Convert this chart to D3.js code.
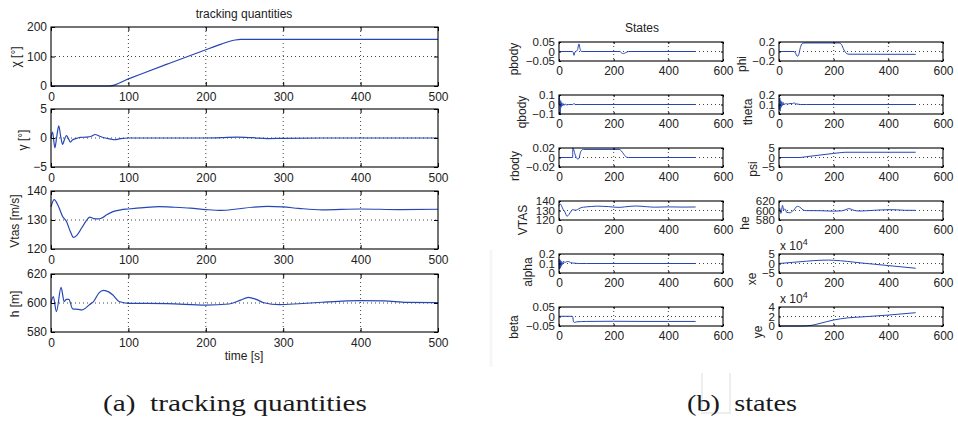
<!DOCTYPE html>
<html><head><meta charset="utf-8">
<script src="https://cdn.jsdelivr.net/npm/d3@7"></script>
<style>body{margin:0;background:#fff}svg{display:block}text{fill:#222}</style>
</head><body><svg id="c" width="958" height="422"></svg>
<script>
// ---------------- data ----------------
const leftXTicks = [0, 100, 200, 300, 400, 500];
const rightXTicks = [0, 200, 400, 600];

// tracking quantities
const chiT = [0, 76, 100, 150, 200, 220, 230, 238, 245, 500];
const chiV = [0, 0, 24, 74, 123, 142, 151, 156, 158, 158];
const chiTicks = [0, 100, 200];

const gammaT = [0, 2, 5, 7.5, 10, 12.5, 15, 17.5, 20, 22.5, 25, 28, 32, 38, 45, 52, 57, 63, 70, 76, 82, 90, 100, 150, 200, 220, 240, 260, 280, 300, 350, 500];
const gammaV = [0, 1.0, -1.7, 0.3, 2.1, 0.3, -1.1, -0.2, 0.4, -0.1, -0.7, -0.3, -0.1, 0.1, 0.15, 0.3, 0.6, 0.3, 0, -0.15, -0.3, -0.1, 0, 0, 0, 0.05, 0.15, 0.05, -0.1, -0.05, 0, 0];
const gammaTicks = [-5, 0, 5];

const vtasT = [0, 4, 10, 15, 20, 25, 29, 33, 40, 45, 50, 55, 60, 65, 72, 80, 90, 100, 120, 140, 160, 180, 200, 220, 240, 260, 280, 300, 320, 350, 400, 450, 500];
const vtasV = [134.5, 137, 134.5, 131.2, 129.5, 126, 124, 124.6, 127.4, 129.5, 131, 130.5, 130.4, 130.6, 131.8, 132.9, 133.5, 133.8, 134.3, 134.6, 134.4, 134.1, 133.6, 133.3, 133.8, 134.4, 134.7, 134.5, 134, 133.5, 133.8, 133.6, 133.7];
const vtasTicks = [120, 130, 140];

const hT = [0, 3, 7, 13, 17, 20, 23, 28, 35, 40, 50, 55, 62, 68, 75, 80, 88, 100, 150, 200, 230, 245, 255, 265, 275, 295, 320, 350, 400, 430, 460, 500];
const hV = [600, 604.4, 594, 610.8, 601, 602.5, 602.5, 595.9, 595.6, 595.2, 599, 601, 607, 608.7, 607.5, 605.5, 601, 599.8, 599.6, 598.6, 599.3, 602, 603.9, 602.5, 600.2, 598.9, 599.5, 600.5, 601.6, 601.5, 600.4, 600.3];
const hTicks = [580, 600, 620];

// states
const pbodyT = [0, 50, 52, 55, 58, 62, 68, 73, 77, 82, 222, 230, 236, 244, 255, 500];
const pbodyV = [0, 0, -0.005, -0.02, -0.004, 0, 0.01, 0.04, 0.015, 0, 0, -0.008, -0.011, -0.006, 0, 0];
const pbodyTicks = [-0.05, 0, 0.05];

const phiT = [0, 55, 60, 67, 72, 78, 85, 95, 220, 228, 238, 248, 256, 500];
const phiV = [0, 0, -0.03, -0.1, -0.07, 0.08, 0.165, 0.18, 0.18, 0.15, 0.03, -0.045, -0.057, -0.06];
const phiTicks = [-0.2, 0, 0.2];

const qbodyT = [0, 1.5, 3, 4.5, 6, 8, 10, 12, 15, 18, 22, 28, 35, 50, 55, 60, 80, 500];
const qbodyV = [0, 0.08, -0.02, -0.1, 0.04, -0.03, 0.02, -0.015, 0.01, -0.01, 0.006, -0.004, 0, 0, 0.01, 0, 0, 0];
const qbodyTicks = [-0.1, 0, 0.1];

const thetaT = [0, 1.5, 3, 4.5, 6, 8, 10, 13, 16, 20, 25, 30, 40, 50, 55, 60, 70, 80, 100, 500];
const thetaV = [0.1, 0.05, 0.17, 0.03, 0.14, 0.07, 0.13, 0.09, 0.12, 0.1, 0.11, 0.105, 0.11, 0.11, 0.118, 0.11, 0.103, 0.1, 0.1, 0.1];
const thetaTicks = [0, 0.1, 0.2];

const rbodyT = [0, 50, 50.5, 53, 58, 63, 68, 73, 78, 84, 90, 220, 228, 238, 246, 255, 500];
const rbodyV = [0, 0, 0.02, 0.018, 0.008, 0, -0.003, -0.002, 0.01, 0.016, 0.017, 0.017, 0.014, 0.006, 0.001, 0, 0];
const rbodyTicks = [-0.02, 0, 0.02];

const psiT = [0, 76, 100, 150, 200, 220, 230, 238, 245, 500];
const psiV = [0, 0, 0.42, 1.29, 2.15, 2.48, 2.63, 2.72, 2.76, 2.76];
const psiTicks = [-5, 0, 5];

const alphaT = [0, 1.5, 3, 4.5, 6, 8, 10, 13, 17, 21, 25, 30, 35, 42, 50, 60, 70, 80, 100, 500];
const alphaV = [0.15, 0.04, 0.14, 0.05, 0.13, 0.07, 0.12, 0.09, 0.125, 0.11, 0.115, 0.12, 0.12, 0.11, 0.105, 0.103, 0.1, 0.1, 0.1, 0.1];
const alphaTicks = [0, 0.1, 0.2];

const xeT = [0, 50, 100, 150, 180, 200, 250, 300, 350, 400, 450, 500];
const xeV = [0, 0.6, 1.2, 1.7, 1.8, 1.7, 1.1, 0.3, -0.4, -1.1, -1.8, -2.5]; // x 10^4
const xeTicks = [-5, 0, 5];

const betaT = [0, 48, 50, 53, 57, 65, 100, 200, 300, 400, 500];
const betaV = [0.001, 0.001, 0, -0.028, -0.031, -0.028, -0.026, -0.025, -0.026, -0.026, -0.026];
const betaTicks = [-0.05, 0, 0.05];

const yeT = [0, 80, 100, 120, 150, 200, 250, 300, 400, 500];
const yeV = [0, 0, 0.03, 0.15, 0.55, 1.26, 1.7, 1.9, 2.3, 2.8]; // x 10^4
const yeTicks = [0, 2, 4];

// ---------------- layout ----------------
const svg = d3.select("#c");
const LINE = "#2646b6";
const SANS = "'Liberation Sans', Arial, Helvetica, sans-serif";
const SERIF = "'Liberation Serif', 'Times New Roman', serif";
const fmt = v => (v < 0 ? "\u2212" : "") + Math.abs(v);

function panel(o) {
  const x = d3.scaleLinear().domain(o.xd).range([o.x0, o.x1]);
  const y = d3.scaleLinear().domain([o.yt[0], o.yt[o.yt.length - 1]]).range([o.y1, o.y0]);
  const g = svg.append("g");
  const gx = o.xt.slice(1, -1);
  g.selectAll(".gv").data(gx).enter().append("line")
    .attr("x1", d => x(d)).attr("x2", d => x(d)).attr("y1", o.y0).attr("y2", o.y1)
    .attr("stroke", "#444").attr("stroke-width", 1).attr("stroke-dasharray", "1,3");
  const gy = o.yt.slice(1, -1);
  g.selectAll(".gh").data(gy).enter().append("line")
    .attr("x1", o.x0).attr("x2", o.x1).attr("y1", d => y(d)).attr("y2", d => y(d))
    .attr("stroke", "#444").attr("stroke-width", 1).attr("stroke-dasharray", "1,3");
  const pts = o.t.map((t, i) => [t, o.v[i]]);
  g.append("path").datum(pts)
    .attr("d", d3.line().x(d => x(d[0])).y(d => y(d[1])).curve(d3.curveMonotoneX))
    .attr("fill", "none").attr("stroke", LINE).attr("stroke-width", o.lw);
  const tl = o.tl;
  const ax = g.append("g").attr("transform", `translate(0,${o.y1})`)
    .call(d3.axisBottom(x).tickValues(o.xt).tickSize(-tl).tickPadding(o.xpad).tickFormat(fmt));
  const ay = g.append("g").attr("transform", `translate(${o.x0},0)`)
    .call(d3.axisLeft(y).tickValues(o.yt).tickSize(-tl).tickPadding(4).tickFormat(fmt));
  g.append("g").attr("transform", `translate(0,${o.y0})`)
    .call(d3.axisTop(x).tickValues(o.xt).tickSize(-tl).tickFormat(""));
  g.append("g").attr("transform", `translate(${o.x1},0)`)
    .call(d3.axisRight(y).tickValues(o.yt).tickSize(-tl).tickFormat(""));
  g.selectAll(".domain").remove();
  g.selectAll(".tick line").attr("stroke", "#000");
  g.selectAll(".tick text").style("font-size", "12px").style("fill", "#222").style("font-family", SANS);
  ay.selectAll(".tick text").style("font-size", o.yfs + "px");
  g.append("rect").attr("x", o.x0).attr("y", o.y0).attr("width", o.x1 - o.x0).attr("height", o.y1 - o.y0)
    .attr("fill", "none").attr("stroke", "#000").attr("stroke-width", 1.1);
  g.append("text").attr("transform", `translate(${o.lx},${o.ly}) rotate(-90)`)
    .attr("text-anchor", "middle").attr("dominant-baseline", "central")
    .style("font-size", "12px").style("font-family", SANS).text(o.label);
  if (o.mult) {
    const t = g.append("text").attr("x", o.x0 + 1).attr("y", o.y0 - 4).style("font-size", "12px").style("font-family", SANS);
    t.append("tspan").text("x 10");
    t.append("tspan").attr("dy", -5).style("font-size", "9px").text("4");
  }
}

// left: tracking quantities
const L = { x0: 51, x1: 438, xd: [0, 500], xt: leftXTicks, tl: 4, xpad: 6.5, lw: 1.2, yfs: 12 };
const leftRows = [
  { y0: 27, y1: 86, t: chiT, v: chiV, yt: chiTicks, label: "\u03c7 [\u00b0]", lx: 16, ly: 57 },
  { y0: 109, y1: 167, t: gammaT, v: gammaV, yt: gammaTicks, label: "\u03b3 [\u00b0]", lx: 23, ly: 140 },
  { y0: 191, y1: 249, t: vtasT, v: vtasV, yt: vtasTicks, label: "Vtas [m/s]", lx: 15, ly: 221 },
  { y0: 274, y1: 332, t: hT, v: hV, yt: hTicks, label: "h [m]", lx: 15, ly: 304 }
];
leftRows.forEach(r => panel(Object.assign({}, L, r)));
svg.append("text").attr("x", 244).attr("y", 18).attr("text-anchor", "middle").style("font-size", "12px").style("font-family", SANS).text("tracking quantities");
svg.append("text").attr("x", 244).attr("y", 360).attr("text-anchor", "middle").style("font-size", "12px").style("font-family", SANS).text("time [s]");

// right: states
const colX = [[559, 723], [779, 943]];
const rowTop = [42, 95, 148, 201, 254, 307];
const RH = 19;
const states = [
  { c: 0, r: 0, t: pbodyT, v: pbodyV, yt: pbodyTicks, label: "pbody", lx: 514, ly: 59 },
  { c: 1, r: 0, t: phiT, v: phiV, yt: phiTicks, label: "phi", lx: 742, ly: 64 },
  { c: 0, r: 1, t: qbodyT, v: qbodyV, yt: qbodyTicks, label: "qbody", lx: 522, ly: 112 },
  { c: 1, r: 1, t: thetaT, v: thetaV, yt: thetaTicks, label: "theta", lx: 748, ly: 112 },
  { c: 0, r: 2, t: rbodyT, v: rbodyV, yt: rbodyTicks, label: "rbody", lx: 515, ly: 166 },
  { c: 1, r: 2, t: psiT, v: psiV, yt: psiTicks, label: "psi", lx: 753, ly: 169 },
  { c: 0, r: 3, t: vtasT, v: vtasV, yt: vtasTicks, label: "VTAS", lx: 523, ly: 220 },
  { c: 1, r: 3, t: hT, v: hV, yt: hTicks, label: "he", lx: 745, ly: 223 },
  { c: 0, r: 4, t: alphaT, v: alphaV, yt: alphaTicks, label: "alpha", lx: 528, ly: 272 },
  { c: 1, r: 4, t: xeT, v: xeV, yt: xeTicks, label: "xe", lx: 752, ly: 279, mult: true },
  { c: 0, r: 5, t: betaT, v: betaV, yt: betaTicks, label: "beta", lx: 514, ly: 327 },
  { c: 1, r: 5, t: yeT, v: yeV, yt: yeTicks, label: "ye", lx: 758, ly: 332, mult: true }
];
states.forEach(s => panel(Object.assign({
  x0: colX[s.c][0], x1: colX[s.c][1], y0: rowTop[s.r], y1: rowTop[s.r] + RH,
  xd: [0, 600], xt: rightXTicks, tl: 2, xpad: 5.5, lw: 1, yfs: 11.5
}, s)));
svg.append("text").attr("x", 642).attr("y", 32).attr("text-anchor", "middle").style("font-size", "12px").style("font-family", SANS).text("States");

// faint scan artefacts
svg.append("path").attr("d", "M702,373V413H730V373").attr("fill", "none").attr("stroke", "#eeeeee").attr("stroke-width", 2);
svg.append("path").attr("d", "M491,250V367").attr("fill", "none").attr("stroke", "#f6f6f6").attr("stroke-width", 3);

// captions
svg.append("text").attr("x", 103).attr("y", 411).style("font-size", "24px").style("font-family", SERIF).style("fill", "#1a1a1a")
  .style("white-space", "pre").attr("textLength", 264).attr("lengthAdjust", "spacingAndGlyphs").text("(a)  tracking quantities");
svg.append("text").attr("x", 687).attr("y", 411).style("font-size", "24px").style("font-family", SERIF).style("fill", "#1a1a1a")
  .style("white-space", "pre").attr("textLength", 110).attr("lengthAdjust", "spacingAndGlyphs").text("(b)  states");
</script>
</body></html>
